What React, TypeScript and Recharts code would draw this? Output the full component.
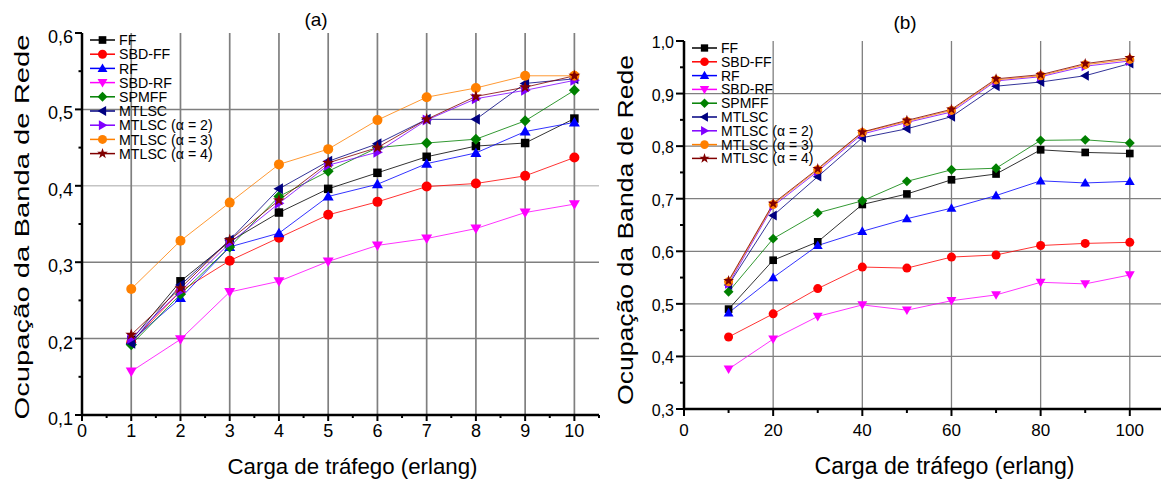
import React from 'react';
import { LineChart, Line, XAxis, YAxis, CartesianGrid, Legend, Label } from 'recharts';

const FONT = '"Liberation Sans", Arial, sans-serif';

// ---------- data (a) ----------
const loadA = [1, 2, 3, 4, 5, 6, 7, 8, 9, 10];
const ffA = [0.198, 0.275, 0.327, 0.365, 0.396, 0.417, 0.438, 0.452, 0.456, 0.488];
const sbdffA = [0.195, 0.262, 0.302, 0.332, 0.362, 0.379, 0.399, 0.403, 0.413, 0.437];
const rfA = [0.197, 0.253, 0.32, 0.338, 0.386, 0.402, 0.429, 0.443, 0.471, 0.483];
const sbdrfA = [0.157, 0.199, 0.261, 0.275, 0.301, 0.322, 0.331, 0.344, 0.365, 0.376];
const spmffA = [0.192, 0.258, 0.32, 0.386, 0.419, 0.45, 0.456, 0.461, 0.485, 0.525];
const mtlscA = [0.194, 0.27, 0.329, 0.396, 0.432, 0.455, 0.487, 0.487, 0.534, 0.54];
const mtlsc2A = [0.2, 0.262, 0.325, 0.377, 0.427, 0.444, 0.486, 0.514, 0.525, 0.538];
const mtlsc3A = [0.265, 0.328, 0.378, 0.428, 0.448, 0.486, 0.516, 0.528, 0.544, 0.544];
const mtlsc4A = [0.205, 0.266, 0.329, 0.381, 0.43, 0.45, 0.487, 0.517, 0.529, 0.544];

// ---------- data (b) ----------
const loadB = [10, 20, 30, 40, 50, 60, 70, 80, 90, 100];
const ffB = [0.49, 0.583, 0.618, 0.689, 0.709, 0.736, 0.747, 0.793, 0.788, 0.786];
const sbdffB = [0.437, 0.481, 0.529, 0.57, 0.568, 0.589, 0.593, 0.611, 0.615, 0.617];
const rfB = [0.483, 0.55, 0.611, 0.638, 0.662, 0.682, 0.706, 0.734, 0.73, 0.733];
const sbdrfB = [0.376, 0.433, 0.476, 0.498, 0.488, 0.506, 0.517, 0.541, 0.538, 0.555];
const spmffB = [0.523, 0.624, 0.673, 0.696, 0.733, 0.755, 0.758, 0.811, 0.812, 0.806];
const mtlscB = [0.536, 0.668, 0.742, 0.816, 0.833, 0.856, 0.914, 0.922, 0.934, 0.957];
const mtlsc2B = [0.538, 0.686, 0.752, 0.823, 0.845, 0.865, 0.924, 0.932, 0.952, 0.962];
const mtlsc3B = [0.542, 0.689, 0.755, 0.826, 0.847, 0.868, 0.926, 0.934, 0.955, 0.965];
const mtlsc4B = [0.544, 0.691, 0.757, 0.827, 0.849, 0.87, 0.928, 0.936, 0.957, 0.968];

const seriesNames = ['FF', 'SBD-FF', 'RF', 'SBD-RF', 'SPMFF', 'MTLSC', 'MTLSC (α = 2)', 'MTLSC (α = 3)', 'MTLSC (α = 4)'];
const seriesA = [ffA, sbdffA, rfA, sbdrfA, spmffA, mtlscA, mtlsc2A, mtlsc3A, mtlsc4A];
const seriesB = [ffB, sbdffB, rfB, sbdrfB, spmffB, mtlscB, mtlsc2B, mtlsc3B, mtlsc4B];

// ---------- ticks / grid ----------
const xTicksA = [0, 0.5, 1, 1.5, 2, 2.5, 3, 3.5, 4, 4.5, 5, 5.5, 6, 6.5, 7, 7.5, 8, 8.5, 9, 9.5, 10, 10.5];
const yTicksA = [0.1, 0.15, 0.2, 0.25, 0.3, 0.35, 0.4, 0.45, 0.5, 0.55, 0.6];
const gridXA = [1, 2, 3, 4, 5, 6, 7, 8, 9, 10];
const gridYA = [0.2, 0.3, 0.4, 0.5];
const xTicksB = [0, 10, 20, 30, 40, 50, 60, 70, 80, 90, 100];
const yTicksB = [0.3, 0.35, 0.4, 0.45, 0.5, 0.55, 0.6, 0.65, 0.7, 0.75, 0.8, 0.85, 0.9, 0.95, 1.0];
const gridXB = [20, 40, 60, 80, 100];
const gridYB = [0.4, 0.5, 0.6, 0.7, 0.8, 0.9];

const styles = [
  { color: '#000000', shape: 'square' },
  { color: '#ff0000', shape: 'circle' },
  { color: '#0000ff', shape: 'up' },
  { color: '#ff00ff', shape: 'down' },
  { color: '#008000', shape: 'diamond' },
  { color: '#000080', shape: 'left' },
  { color: '#8000ff', shape: 'right' },
  { color: '#ff8000', shape: 'circle' },
  { color: '#800000', shape: 'star' },
];

const dataA = loadA.map((x, i) => {
  const row: any = { x };
  seriesA.forEach((s, k) => (row['s' + k] = s[i]));
  return row;
});
const dataB = loadB.map((x, i) => {
  const row: any = { x };
  seriesB.forEach((s, k) => (row['s' + k] = s[i]));
  return row;
});

function Marker({ cx, cy, shape, color, r }: any) {
  if (cx == null || cy == null) return null;
  switch (shape) {
    case 'square':
      return <rect x={cx - r * 0.85} y={cy - r * 0.85} width={r * 1.7} height={r * 1.7} fill={color} />;
    case 'circle':
      return <circle cx={cx} cy={cy} r={r} fill={color} />;
    case 'up':
      return <polygon points={`${cx},${cy - r * 1.1} ${cx + r * 1.1},${cy + r * 0.8} ${cx - r * 1.1},${cy + r * 0.8}`} fill={color} />;
    case 'down':
      return <polygon points={`${cx},${cy + r * 1.1} ${cx + r * 1.1},${cy - r * 0.8} ${cx - r * 1.1},${cy - r * 0.8}`} fill={color} />;
    case 'diamond':
      return <polygon points={`${cx},${cy - r * 1.1} ${cx + r * 1.1},${cy} ${cx},${cy + r * 1.1} ${cx - r * 1.1},${cy}`} fill={color} />;
    case 'left':
      return <polygon points={`${cx - r * 1.1},${cy} ${cx + r * 0.8},${cy - r * 1.1} ${cx + r * 0.8},${cy + r * 1.1}`} fill={color} />;
    case 'right':
      return <polygon points={`${cx + r * 1.1},${cy} ${cx - r * 0.8},${cy - r * 1.1} ${cx - r * 0.8},${cy + r * 1.1}`} fill={color} />;
    case 'star': {
      const pts: string[] = [];
      for (let i = 0; i < 10; i++) {
        const rad = i % 2 === 0 ? r * 1.25 : r * 0.5;
        const a = -Math.PI / 2 + (i * Math.PI) / 5;
        pts.push(`${cx + rad * Math.cos(a)},${cy + rad * Math.sin(a)}`);
      }
      return <polygon points={pts.join(' ')} fill={color} />;
    }
    default:
      return null;
  }
}

const fmt = (v: number) => v.toFixed(1).replace('.', ',');
const near = (v: number, step: number) => Math.abs(v / step - Math.round(v / step)) < 1e-6;

function makeXTick(step: number, fontSize: number, baseline: number, majorLen: number, minorLen: number) {
  return (props: any) => {
    const { x, y, payload } = props;
    const major = near(payload.value, step);
    return (
      <g>
        <line x1={x} y1={y} x2={x} y2={y + (major ? majorLen : minorLen)} stroke="#000" strokeWidth={2} />
        {major && (
          <text x={x} y={y + baseline} textAnchor="middle" fontSize={fontSize} fontFamily={FONT} fill="#000">
            {Math.round(payload.value)}
          </text>
        )}
      </g>
    );
  };
}

function makeYTick(fontSize: number, gap: number, baseline: number, majorLen: number, minorLen: number) {
  return (props: any) => {
    const { x, y, payload } = props;
    const major = near(payload.value, 0.1);
    return (
      <g>
        <line x1={x} y1={y} x2={x - (major ? majorLen : minorLen)} y2={y} stroke="#000" strokeWidth={2} />
        {major && (
          <text x={x - gap} y={y + baseline} textAnchor="end" fontSize={fontSize} fontFamily={FONT} fill="#000">
            {fmt(payload.value)}
          </text>
        )}
      </g>
    );
  };
}

function LegendSvg({ rowStart, rowStep, fontSize, r }: any) {
  return (
    <svg width={210} height={170} style={{ overflow: 'visible', display: 'block' }}>
      {seriesNames.map((name, i) => {
        const cy = rowStart + i * rowStep;
        const st = styles[i];
        return (
          <g key={name}>
            <line x1={2} y1={cy} x2={27} y2={cy} stroke={st.color} strokeWidth={1.5} />
            <Marker cx={14.5} cy={cy} shape={st.shape} color={st.color} r={r} />
            <text x={31} y={cy + fontSize * 0.36} fontSize={fontSize} fontFamily={FONT} fill="#000">
              {name}
            </text>
          </g>
        );
      })}
    </svg>
  );
}

function XTitle({ viewBox, dx, dy, size, len }: any) {
  const cx = viewBox.x + viewBox.width / 2 + dx;
  return (
    <text x={cx} y={viewBox.y + dy} textAnchor="middle" fontSize={size} fontFamily={FONT} fill="#000" textLength={len} lengthAdjust="spacingAndGlyphs">
      Carga de tráfego (erlang)
    </text>
  );
}

function YTitle({ viewBox, bx, dy, size, len }: any) {
  const cy = viewBox.y + viewBox.height / 2 + dy;
  return (
    <text x={bx} y={cy} transform={`rotate(-90, ${bx}, ${cy})`} textAnchor="middle" fontSize={size} fontFamily={FONT} fill="#000" textLength={len} lengthAdjust="spacingAndGlyphs">
      Ocupação da Banda de Rede
    </text>
  );
}

function gridLine(color: (i: number) => string, width: number) {
  return (props: any) => {
    const { x1, y1, x2, y2, index } = props;
    return <line key={`${x1}-${y1}-${index}`} x1={x1} y1={y1} x2={x2} y2={y2} stroke={color(index)} strokeWidth={width} />;
  };
}

function ChartA() {
  return (
    <LineChart width={600} height={482} data={dataA} margin={{ top: 33, right: 1, bottom: 0, left: 0 }}>
      <CartesianGrid
        verticalValues={gridXA}
        horizontalValues={gridYA}
        vertical={gridLine(() => '#7f7f7f', 1.7)}
        horizontal={gridLine((i) => (gridYA[i] === 0.4 ? '#c4c4c4' : '#7f7f7f'), 1.5)}
      />
      <XAxis
        type="number"
        dataKey="x"
        domain={[0, 10.5]}
        ticks={xTicksA}
        interval={0}
        tickSize={0}
        tickMargin={0}
        height={67}
        tickLine={false}
        axisLine={{ stroke: '#000', strokeWidth: 2.5 }}
        tick={makeXTick(1, 18, 22, 6, 3)}
      >
        <Label content={(p: any) => <XTitle viewBox={p.viewBox} dx={12} dy={59} size={22} len={250} />} />
      </XAxis>
      <YAxis
        type="number"
        domain={[0.1, 0.6]}
        ticks={yTicksA}
        interval={0}
        tickSize={0}
        tickMargin={0}
        width={82}
        tickLine={false}
        axisLine={{ stroke: '#000', strokeWidth: 2.5 }}
        tick={makeYTick(18, 9, 10, 7, 3.5)}
      >
        <Label content={(p: any) => <YTitle viewBox={p.viewBox} bx={29} dy={3} size={21} len={385} />} />
      </YAxis>
      {seriesNames.map((name, k) => (
        <Line
          key={name}
          name={name}
          type="linear"
          dataKey={'s' + k}
          stroke={styles[k].color}
          strokeWidth={1}
          strokeOpacity={0.8}
          isAnimationActive={false}
          activeDot={false}
          dot={(p: any) => <Marker key={`a${k}-${p.index}`} cx={p.cx} cy={p.cy} shape={styles[k].shape} color={styles[k].color} r={5} />}
        />
      ))}
      <Legend
        layout="vertical"
        align="center"
        verticalAlign="middle"
        wrapperStyle={{ left: 88, top: 0, width: 210, height: 170 }}
        content={() => <LegendSvg rowStart={40} rowStep={14.2} fontSize={14.2} r={4.5} />}
      />
    </LineChart>
  );
}

function ChartB() {
  return (
    <LineChart width={567} height={482} data={dataB} margin={{ top: 41, right: 6, bottom: 0, left: 0 }}>
      <CartesianGrid
        verticalValues={gridXB}
        horizontalValues={gridYB}
        vertical={gridLine(() => '#7f7f7f', 1.3)}
        horizontal={gridLine(() => '#7f7f7f', 1.3)}
      />
      <XAxis
        type="number"
        dataKey="x"
        domain={[0, 107]}
        ticks={xTicksB}
        interval={0}
        tickSize={0}
        tickMargin={0}
        height={73}
        tickLine={false}
        axisLine={{ stroke: '#000', strokeWidth: 2.5 }}
        tick={makeXTick(20, 17, 27, 7, 4)}
      >
        <Label content={(p: any) => <XTitle viewBox={p.viewBox} dx={22} dy={65} size={23} len={260} />} />
      </XAxis>
      <YAxis
        type="number"
        domain={[0.3, 1.0]}
        ticks={yTicksB}
        interval={0}
        tickSize={0}
        tickMargin={0}
        width={84}
        tickLine={false}
        axisLine={{ stroke: '#000', strokeWidth: 2.5 }}
        tick={makeYTick(16, 10, 7, 8, 4)}
      >
        <Label content={(p: any) => <YTitle viewBox={p.viewBox} bx={33} dy={5} size={22} len={350} />} />
      </YAxis>
      {seriesNames.map((name, k) => (
        <Line
          key={name}
          name={name}
          type="linear"
          dataKey={'s' + k}
          stroke={styles[k].color}
          strokeWidth={1}
          strokeOpacity={0.8}
          isAnimationActive={false}
          activeDot={false}
          dot={(p: any) => <Marker key={`b${k}-${p.index}`} cx={p.cx} cy={p.cy} shape={styles[k].shape} color={styles[k].color} r={4.5} />}
        />
      ))}
      <Legend
        layout="vertical"
        align="center"
        verticalAlign="middle"
        wrapperStyle={{ left: 90, top: 0, width: 210, height: 170 }}
        content={() => <LegendSvg rowStart={48} rowStep={13.8} fontSize={14} r={4.3} />}
      />
    </LineChart>
  );
}

export default function App() {
  return (
    <div style={{ position: 'absolute', left: 0, top: 0, width: 1167, height: 482, background: '#fff', overflow: 'hidden' }}>
      <div style={{ position: 'absolute', left: 0, top: 0 }}>
        <ChartA />
      </div>
      <div style={{ position: 'absolute', left: 600, top: 0 }}>
        <ChartB />
      </div>
      <svg width={1167} height={482} style={{ position: 'absolute', left: 0, top: 0, pointerEvents: 'none' }}>
        <text x={316} y={26} textAnchor="middle" fontSize={19} fontFamily={FONT} fill="#000">(a)</text>
        <text x={905} y={29} textAnchor="middle" fontSize={19} fontFamily={FONT} fill="#000">(b)</text>
      </svg>
    </div>
  );
}
